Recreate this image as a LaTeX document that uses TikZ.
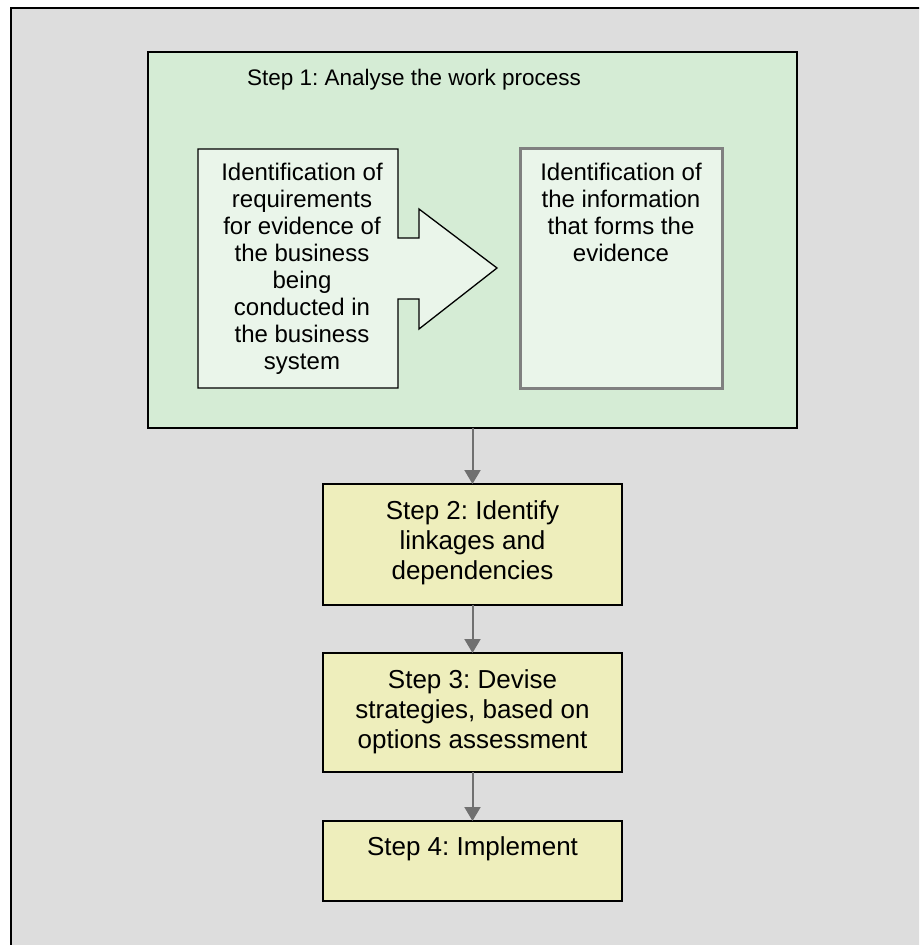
\documentclass[tikz,border=0pt]{standalone}
\usepackage{fontspec}
\setmainfont{Liberation Sans}
\usetikzlibrary{arrows.meta, positioning}
\definecolor{panelgray}{RGB}{221,221,221}
\definecolor{stepgreen}{RGB}{213,236,213}
\definecolor{palegreen}{RGB}{234,245,234}
\definecolor{stepyellow}{RGB}{238,238,188}
\definecolor{arrowgray}{RGB}{112,112,112}
\definecolor{framegray}{RGB}{128,128,128}
\frenchspacing

\begin{document}
\begin{tikzpicture}[
		x=1pt, y=1pt,
		stepbox/.style={rectangle, draw=black, line width=1.5pt, fill=stepyellow, anchor=north west, minimum width=299pt, outer sep=0pt, inner sep=0pt},
		steptext/.style={anchor=north, align=center, inner sep=0pt, font=\fontsize{26}{30}\selectfont},
		boxtext/.style={anchor=north, align=center, inner sep=0pt, font=\fontsize{24}{27}\selectfont},
		flowarrow/.style={-{Triangle[length=14pt, width=16pt]}, draw=arrowgray, line width=2pt},
	]
		\useasboundingbox (0,0) rectangle (919,-945);
		\clip (0,0) rectangle (919,-945);

		%Background
		\draw[fill=panelgray, line width=2pt] (11,-8) rectangle (940,-960);

		%Step 1
		\node (step1) [rectangle, draw=black, line width=2pt, fill=stepgreen, anchor=north west, minimum width=649pt, minimum height=376pt, outer sep=0pt] at (148,-52) {};
		\node (title) [anchor=north, inner sep=0pt, font=\fontsize{22.5}{26}\selectfont] at (414,-69) {Step 1: Analyse the work process};

		\draw[fill=palegreen, line width=1.3pt] (198,-149) -- (398,-149) -- (398,-238) -- (419,-238) -- (419,-209)
			-- (497,-268) -- (419,-329) -- (419,-299) -- (398,-299) -- (398,-388) -- (198,-388) -- cycle;
		\node (reqtext) [boxtext] at (302,-162.5) {Identification of\\requirements\\for evidence of\\the business\\being\\conducted in\\the business\\system};

		\node (info) [rectangle, draw=framegray, line width=3pt, fill=palegreen, anchor=north west, minimum width=202pt, minimum height=240pt, outer sep=0pt] at (520,-148) {};
		\node (infotext) [boxtext, below=14.5pt of info.north] {Identification of\\the information\\that forms the\\evidence};

		%Steps 2 to 4
		\node (step2) [stepbox, minimum height=121pt] at (323,-484) {};
		\node (step2text) [steptext, below=16pt of step2.north] {Step 2: Identify\\linkages and\\dependencies};

		\node (step3) [stepbox, minimum height=119pt] at (323,-653) {};
		\node (step3text) [steptext, below=16pt of step3.north] {Step 3: Devise\\strategies, based on\\options assessment};

		\node (step4) [stepbox, minimum height=80pt] at (323,-821) {};
		\node (step4text) [steptext, below=15pt of step4.north] {Step 4: Implement};

		%Lines
		\draw[flowarrow] (step1.south) -- (step2.north);
		\draw[flowarrow] (step2.south) -- (step3.north);
		\draw[flowarrow] (step3.south) -- (step4.north);
	\end{tikzpicture}
\end{document}
